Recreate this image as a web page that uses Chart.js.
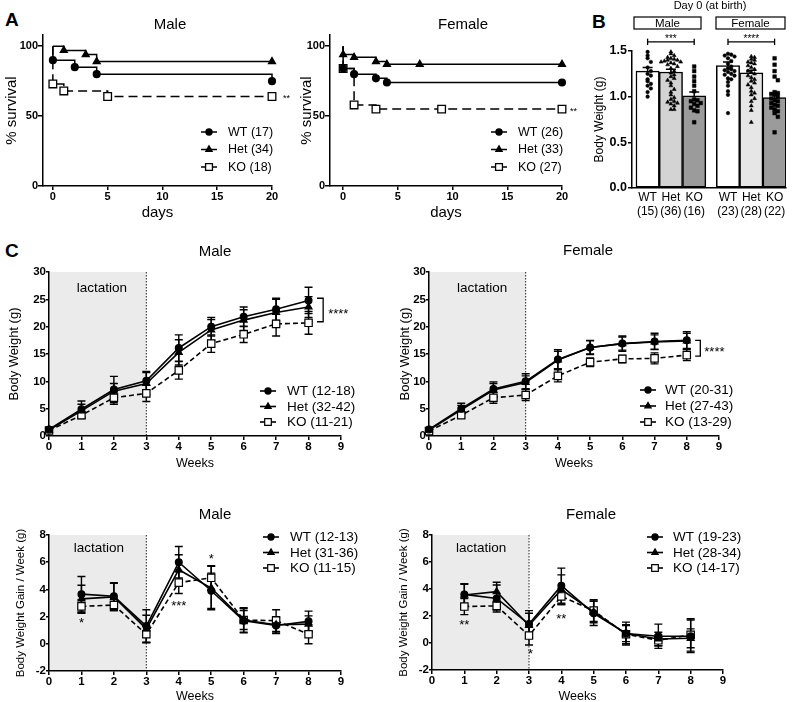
<!DOCTYPE html>
<html><head><meta charset="utf-8">
<script src="https://cdn.jsdelivr.net/npm/chart.js@4.4.1/dist/chart.umd.min.js"></script>
<style>
html,body{margin:0;padding:0;background:#fff;}
body{width:793px;height:702px;position:relative;overflow:hidden;font-family:'Liberation Sans',Arial,sans-serif;}
canvas{position:absolute;}
.pl{position:absolute;font-weight:bold;font-size:19px;line-height:19px;color:#000;}
</style></head><body>
<div class="pl" style="left:5px;top:10px">A</div>
<div class="pl" style="left:592px;top:12px">B</div>
<div class="pl" style="left:5px;top:241px">C</div>
<canvas id="aM" width="300" height="230" style="left:0;top:0"></canvas>
<canvas id="aF" width="300" height="230" style="left:290px;top:0"></canvas>
<canvas id="b" width="203" height="230" style="left:590px;top:0"></canvas>
<canvas id="cM" width="400" height="235" style="left:0;top:240px"></canvas>
<canvas id="cF" width="399" height="235" style="left:394px;top:240px"></canvas>
<canvas id="dM" width="400" height="212" style="left:0;top:490px"></canvas>
<canvas id="dF" width="399" height="212" style="left:394px;top:490px"></canvas>
<script>
// ================= DATA =================
// A: Kaplan-Meier survival (day, % survival)
const survDaysMaleWT  = [0, 0, 2, 4, 20];
const survMaleWT      = [100, 90, 85, 80, 75];
const survDaysMaleHet = [0, 1, 3, 4, 20];
const survMaleHet     = [100, 97, 94, 89, 89];
const survDaysMaleKO  = [0, 0, 1, 5, 20];
const survMaleKO      = [100, 73, 68, 64, 64];
const survDaysFemWT   = [0, 0, 1, 3, 4, 20];
const survFemWT       = [100, 84, 80, 77, 74, 74];
const survDaysFemHet  = [0, 0, 1, 3, 4, 7, 20];
const survFemHet      = [100, 94, 92, 89, 87, 87, 87];
const survDaysFemKO   = [0, 0, 1, 3, 9, 20];
const survFemKO       = [100, 84, 58, 55, 55, 55];
const survLabelsMale  = ['WT (17)', 'Het (34)', 'KO (18)'];
const survLabelsFem   = ['WT (26)', 'Het (33)', 'KO (27)'];
const survTicksX      = [0, 5, 10, 15, 20];
const survTicksY      = [0, 50, 100];

// B: body weight at birth
const birthGroups = ['WT', 'Het', 'KO', 'WT', 'Het', 'KO'];
const birthN      = ['(15)', '(36)', '(16)', '(23)', '(28)', '(22)'];
const birthSlot   = [0, 1, 2, 3.45, 4.45, 5.45];
const birthMean   = [1.28, 1.27, 1.01, 1.34, 1.26, 0.99];
const birthSEM    = [0.04, 0.03, 0.04, 0.04, 0.03, 0.04];
const birthPtsMaleWT  = [1.49,1.45,1.42,1.38,1.32,1.28,1.25,1.23,1.19,1.17,1.14,1.12,1.09,1.05,1.00];
const birthPtsMaleHet = [1.49,1.47,1.45,1.43,1.42,1.41,1.40,1.40,1.39,1.38,1.38,1.37,1.36,1.35,1.33,1.31,1.28,1.26,1.24,1.22,1.20,1.18,1.15,1.12,1.08,1.05,1.02,0.99,0.97,0.95,0.94,0.93,0.92,0.90,0.86,0.86];
const birthPtsMaleKO  = [1.33,1.28,1.22,1.17,1.12,1.06,0.97,0.96,0.95,0.93,0.92,0.90,0.88,0.85,0.84,0.72];
const birthPtsFemWT   = [1.47,1.46,1.45,1.44,1.42,1.39,1.36,1.33,1.31,1.30,1.29,1.28,1.27,1.25,1.24,1.23,1.20,1.19,1.16,1.12,1.06,1.02,0.82];
const birthPtsFemHet  = [1.44,1.43,1.41,1.40,1.38,1.37,1.36,1.34,1.32,1.30,1.28,1.27,1.25,1.23,1.21,1.19,1.17,1.15,1.13,1.10,1.06,1.04,1.02,0.98,0.95,0.90,0.85,0.72];
const birthPtsFemKO   = [1.42,1.35,1.28,1.22,1.18,1.05,1.04,1.03,1.02,1.00,0.98,0.96,0.95,0.93,0.91,0.90,0.88,0.86,0.84,0.82,0.78,0.61];
const birthTicksY = [0, 0.5, 1.0, 1.5];

// C: body weight (weeks 0-8)
const weeks = [0, 1, 2, 3, 4, 5, 6, 7, 8];
const bwMaleWT     = [1.2, 4.9, 8.5, 10.1, 16.1, 20.0, 21.8, 23.2, 24.8];
const bwMaleWTErr  = [0.3, 1.5, 2.4, 1.7, 2.4, 1.7, 1.8, 2.0, 2.4];
const bwMaleHet    = [1.1, 4.6, 8.2, 9.6, 15.3, 19.4, 21.2, 22.6, 23.6];
const bwMaleHetErr = [0.3, 1.2, 1.4, 2.0, 2.3, 1.9, 1.9, 2.4, 1.9];
const bwMaleKO     = [1.0, 3.8, 7.0, 7.8, 12.0, 16.9, 18.6, 20.5, 20.7];
const bwMaleKOErr  = [0.3, 0.6, 1.2, 1.5, 1.6, 1.6, 1.5, 2.2, 2.1];
const bwFemWT      = [1.2, 5.0, 8.6, 10.0, 14.0, 16.2, 16.9, 17.3, 17.5];
const bwFemWTErr   = [0.3, 1.0, 1.3, 1.4, 1.8, 1.3, 1.4, 1.5, 1.6];
const bwFemHet     = [1.1, 4.8, 8.4, 9.8, 13.9, 16.2, 16.9, 17.2, 17.4];
const bwFemHetErr  = [0.3, 0.8, 1.2, 1.2, 1.6, 1.2, 1.2, 1.3, 1.4];
const bwFemKO      = [0.9, 3.8, 7.0, 7.5, 11.0, 13.5, 14.1, 14.2, 14.8];
const bwFemKOErr   = [0.3, 0.4, 1.0, 1.0, 1.1, 0.8, 0.7, 1.0, 1.0];
const bwLabelsMale = ['WT (12-18)', 'Het (32-42)', 'KO (11-21)'];
const bwLabelsFem  = ['WT (20-31)', 'Het (27-43)', 'KO (13-29)'];
const bwTicksY = [0, 5, 10, 15, 20, 25, 30];
const weekTicks = [0, 1, 2, 3, 4, 5, 6, 7, 8, 9];

// C: weekly gain (weeks 1-8)
const gainWeeks = [1, 2, 3, 4, 5, 6, 7, 8];
const gainMaleWT     = [3.65, 3.5, 1.3, 6.0, 3.9, 1.7, 1.35, 1.65];
const gainMaleWTErr  = [1.3, 1.0, 1.2, 1.15, 1.3, 0.9, 0.6, 0.75];
const gainMaleHet    = [3.3, 3.45, 1.1, 5.45, 4.1, 1.75, 1.4, 1.45];
const gainMaleHetErr = [1.0, 1.0, 1.0, 1.1, 1.6, 0.7, 0.6, 0.6];
const gainMaleKO     = [2.75, 2.85, 0.7, 4.5, 4.85, 1.75, 1.7, 0.7];
const gainMaleKOErr  = [0.5, 0.4, 0.6, 0.8, 0.9, 0.9, 0.8, 0.7];
const gainFemWT      = [3.6, 3.3, 1.4, 4.25, 2.2, 0.7, 0.5, 0.5];
const gainFemWTErr   = [0.8, 1.0, 1.0, 1.3, 0.9, 0.85, 0.9, 1.2];
const gainFemHet     = [3.55, 3.8, 1.3, 3.95, 2.3, 0.7, 0.3, 0.35];
const gainFemHetErr  = [0.8, 0.7, 0.9, 1.1, 0.8, 0.6, 0.5, 0.7];
const gainFemKO      = [2.7, 2.75, 0.55, 3.45, 2.4, 0.65, 0.2, 0.6];
const gainFemKOErr   = [0.6, 0.3, 0.7, 0.6, 0.8, 0.7, 0.4, 1.2];
const gainLabelsMale = ['WT (12-13)', 'Het (31-36)', 'KO (11-15)'];
const gainLabelsFem  = ['WT (19-23)', 'Het (28-34)', 'KO (14-17)'];
const gainTicksY = [-2, 0, 2, 4, 6, 8];

// ================= RENDERING =================
const FONT = "'Liberation Sans', Arial, Helvetica, sans-serif";
Chart.defaults.font.family = FONT;
Chart.defaults.color = '#000';
Chart.defaults.animation = false;

const DECO = {};

function drawMarker(ctx, style, x, y, r, fill, stroke, lw) {
  ctx.save();
  ctx.setLineDash([]);
  ctx.beginPath();
  if (style === 'circle') { ctx.arc(x, y, r, 0, 2 * Math.PI); }
  else if (style === 'triangle') {
    for (let k = 0; k < 3; k++) {
      const a = k * 2 * Math.PI / 3;
      const qx = x + Math.sin(a) * r, qy = y - Math.cos(a) * r;
      if (k) ctx.lineTo(qx, qy); else ctx.moveTo(qx, qy);
    }
    ctx.closePath();
  } else { const s = r * Math.SQRT1_2; ctx.rect(x - s, y - s, 2 * s, 2 * s); }
  ctx.fillStyle = fill; ctx.fill();
  ctx.lineWidth = lw; ctx.strokeStyle = stroke; ctx.stroke();
  ctx.restore();
}

const decoPlugin = {
  id: 'deco',
  beforeDraw(chart) {
    const d = DECO[chart.canvas.id]; if (!d || !d.shade) return;
    const ctx = chart.ctx, xs = chart.scales.x, ca = chart.chartArea;
    const x0 = xs.getPixelForValue(d.shade[0]), x1 = xs.getPixelForValue(d.shade[1]);
    ctx.save();
    ctx.fillStyle = '#ebebeb';
    ctx.fillRect(x0, ca.top, x1 - x0, ca.bottom - ca.top);
    ctx.strokeStyle = '#222'; ctx.lineWidth = 1; ctx.setLineDash([1.5, 1.5]);
    ctx.beginPath(); ctx.moveTo(x1, ca.top); ctx.lineTo(x1, ca.bottom); ctx.stroke();
    ctx.restore();
  },
  beforeDatasetsDraw(chart) {
    const ctx = chart.ctx;
    chart.data.datasets.forEach((ds, i) => {
      if (!ds.errors) return;
      const meta = chart.getDatasetMeta(i);
      const xs = chart.scales[meta.xAxisID], ys = chart.scales[meta.yAxisID];
      const cap = ds.errCap || 4;
      ctx.save(); ctx.strokeStyle = '#000'; ctx.lineWidth = ds.errWidth || 1.4; ctx.setLineDash([]);
      ds.data.forEach((p, j) => {
        const e = ds.errors[j]; if (e == null) return;
        const x = xs.getPixelForValue(p.x);
        const yt = ys.getPixelForValue(p.y + e), yb = ys.getPixelForValue(p.y - e);
        ctx.beginPath();
        ctx.moveTo(x, yt); ctx.lineTo(x, yb);
        ctx.moveTo(x - cap, yt); ctx.lineTo(x + cap, yt);
        ctx.moveTo(x - cap, yb); ctx.lineTo(x + cap, yb);
        ctx.stroke();
      });
      ctx.restore();
    });
  },
  afterDraw(chart) {
    const d = DECO[chart.canvas.id]; if (!d) return;
    const ctx = chart.ctx, xs = chart.scales.x, ys = chart.scales.y;
    ctx.save();
    (d.rects || []).forEach(r => {
      ctx.strokeStyle = '#000'; ctx.lineWidth = 1.2; ctx.setLineDash([]);
      ctx.strokeRect(r.x0, r.y0, r.x1 - r.x0, r.y1 - r.y0);
    });
    (d.lines || []).forEach(l => {
      ctx.strokeStyle = '#000'; ctx.lineWidth = l.w || 1.3; ctx.setLineDash([]);
      ctx.beginPath();
      l.pts.forEach((p, k) => {
        const X = xs.getPixelForValue(p[0]), Y = ys.getPixelForValue(p[1]);
        if (k) ctx.lineTo(X, Y); else ctx.moveTo(X, Y);
      });
      ctx.stroke();
    });
    (d.texts || []).forEach(t => {
      const X = (t.px ? t.x : xs.getPixelForValue(t.x)) + (t.dx || 0);
      const Y = (t.px ? t.y : ys.getPixelForValue(t.y)) + (t.dy || 0);
      ctx.fillStyle = '#000';
      ctx.font = (t.bold ? 'bold ' : '') + t.size + 'px ' + FONT;
      ctx.textAlign = t.align || 'center';
      ctx.textBaseline = 'middle';
      ctx.fillText(t.t, X, Y);
    });
    if (d.legend) {
      const L = d.legend;
      chart.data.datasets.forEach((ds, i) => {
        const y = L.y + i * L.dy;
        ctx.strokeStyle = '#000'; ctx.lineWidth = ds.borderWidth; ctx.setLineDash([]);
        ctx.beginPath(); ctx.moveTo(L.x, y); ctx.lineTo(L.x + L.len, y); ctx.stroke();
        drawMarker(ctx, ds.pointStyle, L.x + L.len / 2, y, ds.legendR, ds.pointBackgroundColor, '#000', ds.pointBorderWidth);
        ctx.fillStyle = '#000';
        ctx.font = L.size + 'px ' + FONT;
        ctx.textAlign = 'left'; ctx.textBaseline = 'middle';
        ctx.fillText(ds.label, L.tx, y + 0.5);
      });
    }
    ctx.restore();
  }
};
Chart.register(decoPlugin);

function yAxis(o) {
  return {
    type: 'linear', position: 'left', min: o.min, max: o.max,
    border: { display: true, color: '#000', width: 1.5 },
    grid: { display: true, drawOnChartArea: false, drawTicks: true, tickLength: o.tl, color: '#000', lineWidth: 1.5 },
    ticks: { autoSkip: false, padding: o.tp, color: '#000', font: { size: o.ts, weight: 'bold' },
             callback: o.fmt || (v => String(v)) },
    title: { display: true, text: o.title, color: '#000', font: { size: o.titleSize, lineHeight: 1.2 },
             padding: { top: o.titlePad, bottom: 0 } },
    afterBuildTicks: s => { s.ticks = o.ticks.map(v => ({ value: v })); },
    afterFit: s => { s.width = o.w; }
  };
}
function xAxis(o) {
  return {
    type: 'linear', position: 'bottom', min: o.min, max: o.max, offset: false,
    border: { display: true, color: '#000', width: 1.5 },
    grid: { display: true, offset: false, drawOnChartArea: false, drawTicks: o.tl > 0, tickLength: o.tl, color: '#000', lineWidth: 1.5 },
    ticks: { autoSkip: false, maxRotation: 0, padding: o.tp, color: '#000',
             font: { size: o.ts, weight: o.tw || 'bold', lineHeight: 1.2 },
             callback: o.fmt || (v => String(v)) },
    title: { display: !!o.title, text: o.title, color: '#000', font: { size: o.titleSize, lineHeight: o.titleLH || 1.2 },
             padding: { top: 0, bottom: o.titlePad } },
    afterBuildTicks: s => { s.ticks = o.ticks.map(v => ({ value: v })); },
    afterFit: s => { s.height = o.h; }
  };
}

const SURV_STYLE = [
  { ps: 'circle', r: 3.4, fill: '#000', dash: [] },
  { ps: 'triangle', r: 4, fill: '#000', dash: [] },
  { ps: 'rect', r: 5.4, fill: '#fff', dash: [9, 5] }
];
const GROW_STYLE = [
  { ps: 'circle', r: 3.4, fill: '#000', dash: [] },
  { ps: 'triangle', r: 4, fill: '#000', dash: [] },
  { ps: 'rect', r: 5.2, fill: '#fff', dash: [5, 3] }
];

function survDS(label, xs, ys, k) {
  const s = SURV_STYLE[k];
  return {
    label, data: xs.map((x, i) => ({ x, y: ys[i] })), stepped: true,
    borderColor: '#000', borderWidth: 1.5, borderDash: s.dash, fill: false,
    pointStyle: s.ps, pointRadius: ys.map((_, i) => i === 0 ? 0 : s.r), legendR: s.r * 0.9,
    pointBackgroundColor: s.fill, pointBorderColor: '#000', pointBorderWidth: 1.3, clip: false
  };
}
function growDS(label, xs, ys, errs, k) {
  const s = GROW_STYLE[k];
  return {
    label, data: xs.map((x, i) => ({ x, y: ys[i] })), errors: errs, errCap: 4,
    borderColor: '#000', borderWidth: 1.6, borderDash: s.dash, fill: false, tension: 0,
    pointStyle: s.ps, pointRadius: s.r, legendR: s.r * 0.9,
    pointBackgroundColor: s.fill, pointBorderColor: '#000', pointBorderWidth: 1.2, clip: false
  };
}

function lineChart(id, datasets, pad, x, y) {
  return new Chart(document.getElementById(id), {
    type: 'line',
    data: { datasets },
    options: {
      responsive: false, animation: false,
      layout: { padding: pad },
      plugins: { legend: { display: false }, tooltip: { enabled: false }, title: { display: false } },
      scales: { x: xAxis(x), y: yAxis(y) }
    }
  });
}

// ---------- A: survival ----------
const survX = (min) => ({ min, max: 20, ticks: survTicksX, tl: 4, tp: 0, ts: 11, title: 'days', titleSize: 15, titlePad: 8, h: 44 });
const survY = (w, tp) => ({ min: 0, max: 108, ticks: survTicksY, tl: 5, tp: 0, ts: 11, title: '% survival', titleSize: 15, titlePad: tp, w });

DECO.aM = {
  texts: [
    { t: 'Male', x: 170, y: 25, px: true, size: 15 },
    { t: '**', x: 20, y: 64, dx: 11, dy: 2, size: 9, align: 'left' }
  ],
  legend: { x: 201, y: 132, dy: 17.5, len: 16, tx: 228, size: 12.5 }
};
lineChart('aM', [
  survDS(survLabelsMale[0], survDaysMaleWT, survMaleWT, 0),
  survDS(survLabelsMale[1], survDaysMaleHet, survMaleHet, 1),
  survDS(survLabelsMale[2], survDaysMaleKO, survMaleKO, 2)
], { top: 35, right: 28, left: 0, bottom: 0 }, survX(-0.9), survY(43, 3));

DECO.aF = {
  texts: [
    { t: 'Female', x: 173, y: 25, px: true, size: 15 },
    { t: '**', x: 20, y: 55, dx: 8, dy: 2, size: 9, align: 'left' }
  ],
  legend: { x: 201, y: 132, dy: 17.5, len: 16, tx: 228, size: 12.5 }
};
lineChart('aF', [
  survDS(survLabelsFem[0], survDaysFemWT, survFemWT, 0),
  survDS(survLabelsFem[1], survDaysFemHet, survFemHet, 1),
  survDS(survLabelsFem[2], survDaysFemKO, survFemKO, 2)
], { top: 35, right: 28, left: 0, bottom: 0 }, survX(-1.2), survY(40, 8));

// ---------- B: birth weight ----------
const birthPts = [birthPtsMaleWT, birthPtsMaleHet, birthPtsMaleKO, birthPtsFemWT, birthPtsFemHet, birthPtsFemKO];
const birthFill = ['#ffffff', '#d3d3d3', '#9b9b9b', '#ffffff', '#e6e6e6', '#9b9b9b'];
const birthShape = ['circle', 'triangle', 'rect', 'circle', 'triangle', 'rect'];
const birthShapeR = { circle: 1.8, triangle: 2.3, rect: 2.6 };
// scatter-dot layout: points sharing a value band are spread sideways from the centre
function swarmOffsets(pts, band, step, maxO) {
  const used = {};
  return pts.map(v => {
    const b = Math.round(v / band);
    const k = used[b] = (used[b] === undefined ? 0 : used[b] + 1);
    let o = k === 0 ? 0 : (k % 2 ? Math.ceil(k / 2) : -k / 2);
    if (Math.abs(o) > maxO) o = (o > 0 ? 0.5 : -0.5);
    return o * step;
  });
}
const birthDatasets = [{
  type: 'bar', label: 'mean',
  data: birthSlot.map((x, i) => ({ x, y: birthMean[i] })),
  errors: birthSEM, errCap: 5, errWidth: 1.5,
  backgroundColor: birthFill, borderColor: '#000', borderWidth: 1.5, borderSkipped: false,
  barPercentage: 1, categoryPercentage: 1, order: 2
}];
birthPts.forEach((pts, g) => {
  const off = swarmOffsets(pts, 0.05, 0.14, 3);
  birthDatasets.push({
    type: 'scatter', label: birthGroups[g] + ' ' + birthN[g],
    data: pts.map((v, k) => ({ x: birthSlot[g] + off[k], y: v })),
    pointStyle: birthShape[g], pointRadius: birthShapeR[birthShape[g]],
    backgroundColor: '#000', borderColor: '#000', borderWidth: 0.5, showLine: false, order: 1, clip: false
  });
});
DECO.b = {
  rects: [{ x0: 44, x1: 111, y0: 17, y1: 29 }, { x0: 126, x1: 195, y0: 17, y1: 29 }],
  texts: [
    { t: 'Day 0 (at birth)', x: 120, y: 6, px: true, size: 11 },
    { t: 'Male', x: 77.5, y: 23.5, px: true, size: 11.5 },
    { t: 'Female', x: 160.5, y: 23.5, px: true, size: 11.5 },
    { t: '***', x: 1, y: 1.655, dy: 2, size: 10 },
    { t: '****', x: 4.45, y: 1.655, dy: 2, size: 10 }
  ],
  lines: [
    { pts: [[0, 1.6], [2, 1.6]] }, { pts: [[0, 1.565], [0, 1.635]] }, { pts: [[2, 1.565], [2, 1.635]] },
    { pts: [[3.45, 1.6], [5.45, 1.6]] }, { pts: [[3.45, 1.565], [3.45, 1.635]] }, { pts: [[5.45, 1.565], [5.45, 1.635]] }
  ]
};
new Chart(document.getElementById('b'), {
  type: 'bar',
  data: { datasets: birthDatasets },
  options: {
    responsive: false, animation: false,
    layout: { padding: { top: 51, right: 7, left: 0, bottom: 0 } },
    plugins: { legend: { display: false }, tooltip: { enabled: false } },
    scales: {
      x: xAxis({ min: -0.67, max: 5.94, ticks: birthSlot, tl: 0, tp: 2, ts: 12, tw: 'normal',
                 fmt: (v, i) => [birthGroups[i], birthN[i]], h: 42 }),
      y: yAxis({ min: 0, max: 1.5, ticks: birthTicksY, tl: 4, tp: 1, ts: 12.5, fmt: v => v.toFixed(1),
                 title: 'Body Weight (g)', titleSize: 12, titlePad: 2, w: 42 })
    }
  }
});

// ---------- C: growth ----------
const wkX = (h, tp, pad) => ({ min: 0, max: 9, ticks: weekTicks, tl: 4, tp: 0, ts: 11.5, title: 'Weeks', titleSize: 12.5, titlePad: pad, titleLH: h, h: tp });

DECO.cM = {
  shade: [0, 3],
  texts: [
    { t: 'Male', x: 215, y: 12, px: true, size: 15 },
    { t: 'lactation', x: 1.63, y: 27, size: 13.5 },
    { t: '****', x: 8.45, y: 22.8, dx: 5, dy: 3, size: 13, align: 'left' }
  ],
  lines: [{ pts: [[8.26, 25.2], [8.45, 25.2], [8.45, 20.9], [8.26, 20.9]] }],
  legend: { x: 260, y: 151, dy: 15.5, len: 16, tx: 287, size: 13.5 }
};
lineChart('cM', [
  growDS(bwLabelsMale[0], weeks, bwMaleWT, bwMaleWTErr, 0),
  growDS(bwLabelsMale[1], weeks, bwMaleHet, bwMaleHetErr, 1),
  growDS(bwLabelsMale[2], weeks, bwMaleKO, bwMaleKOErr, 2)
], { top: 32, right: 59, left: 0, bottom: 0 }, wkX(1.2, 39, 4),
  { min: 0, max: 30, ticks: bwTicksY, tl: 3, tp: 0, ts: 11.5, title: 'Body Weight (g)', titleSize: 13, titlePad: 7, w: 49 });

DECO.cF = {
  shade: [0, 3],
  texts: [
    { t: 'Female', x: 194, y: 11, px: true, size: 15 },
    { t: 'lactation', x: 1.65, y: 27, size: 13.5 },
    { t: '****', x: 8.42, y: 15.9, dx: 4, dy: 3, size: 13, align: 'left' }
  ],
  lines: [{ pts: [[8.26, 17.5], [8.42, 17.5], [8.42, 14.6], [8.26, 14.6]] }],
  legend: { x: 246, y: 150, dy: 16, len: 16, tx: 271, size: 13.5 }
};
lineChart('cF', [
  growDS(bwLabelsFem[0], weeks, bwFemWT, bwFemWTErr, 0),
  growDS(bwLabelsFem[1], weeks, bwFemHet, bwFemHetErr, 1),
  growDS(bwLabelsFem[2], weeks, bwFemKO, bwFemKOErr, 2)
], { top: 32, right: 74, left: 0, bottom: 0 }, wkX(1.2, 39, 4),
  { min: 0, max: 30, ticks: bwTicksY, tl: 3, tp: 0, ts: 11.5, title: 'Body Weight (g)', titleSize: 13, titlePad: 4, w: 35 });

DECO.dM = {
  shade: [0, 3],
  texts: [
    { t: 'Male', x: 215, y: 25, px: true, size: 15 },
    { t: 'lactation', x: 1.54, y: 7.0, size: 13.5 },
    { t: '*', x: 1, y: 1.75, dy: 3, size: 13 },
    { t: '***', x: 4, y: 3.0, dy: 3, size: 13 },
    { t: '*', x: 5, y: 6.4, dy: 3, size: 13 }
  ],
  legend: { x: 263, y: 47, dy: 15.5, len: 16, tx: 290, size: 13.5 }
};
lineChart('dM', [
  growDS(gainLabelsMale[0], gainWeeks, gainMaleWT, gainMaleWTErr, 0),
  growDS(gainLabelsMale[1], gainWeeks, gainMaleHet, gainMaleHetErr, 1),
  growDS(gainLabelsMale[2], gainWeeks, gainMaleKO, gainMaleKOErr, 2)
], { top: 45, right: 59, left: 0, bottom: 0 }, wkX(0.8, 31, 0),
  { min: -2, max: 8, ticks: gainTicksY, tl: 3, tp: 0, ts: 11.5, title: 'Body Weight Gain / Week (g)', titleSize: 11.5, titlePad: 14, w: 49 });

DECO.dF = {
  shade: [0, 3],
  texts: [
    { t: 'Female', x: 197, y: 25, px: true, size: 15 },
    { t: 'lactation', x: 1.52, y: 7.0, size: 13.5 },
    { t: '**', x: 1, y: 1.55, dy: 3, size: 13 },
    { t: '*', x: 3.05, y: -0.6, dy: 3, size: 13 },
    { t: '**', x: 4, y: 2.0, dy: 3, size: 13 }
  ],
  legend: { x: 253, y: 47, dy: 15.5, len: 16, tx: 279, size: 13.5 }
};
lineChart('dF', [
  growDS(gainLabelsFem[0], gainWeeks, gainFemWT, gainFemWTErr, 0),
  growDS(gainLabelsFem[1], gainWeeks, gainFemHet, gainFemHetErr, 1),
  growDS(gainLabelsFem[2], gainWeeks, gainFemKO, gainFemKOErr, 2)
], { top: 45, right: 70, left: 0, bottom: 0 }, wkX(0.8, 32, 0),
  { min: -2, max: 8, ticks: gainTicksY, tl: 3, tp: 0, ts: 11.5, title: 'Body Weight Gain / Week (g)', titleSize: 11.5, titlePad: 3, w: 38 });
</script>
</body></html>
